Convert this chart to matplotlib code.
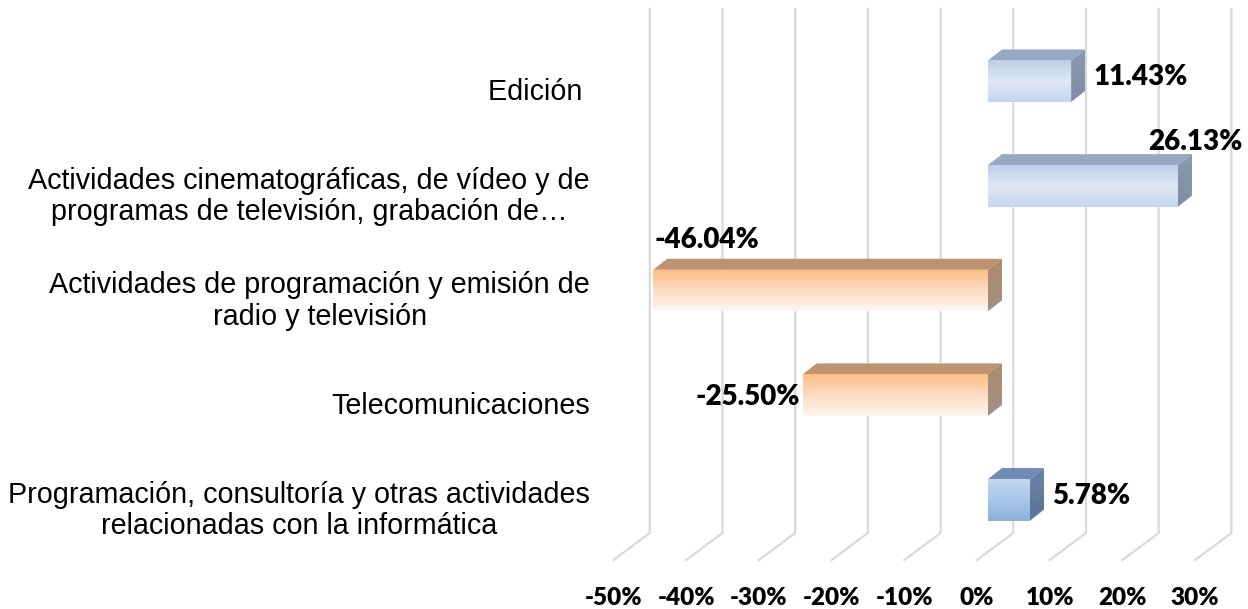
import matplotlib
matplotlib.use('Agg')
import matplotlib.pyplot as plt
from matplotlib.patches import Polygon
from matplotlib.colors import LinearSegmentedColormap
import numpy as np

categorias = [
    'Edición ',
    'Actividades cinematográficas, de vídeo y de\nprogramas de televisión, grabación de…',
    'Actividades de programación y emisión de\nradio y televisión',
    'Telecomunicaciones',
    'Programación, consultoría y otras actividades\nrelacionadas con la informática',
]
valores = [11.43, 26.13, -46.04, -25.50, 5.78]
ticks_x = [-50, -40, -30, -20, -10, 0, 10, 20, 30]
etiquetas_x = [f'{t}%' for t in ticks_x]

# colores de cada barra: frente (degradado), cara superior, lateral (degradado)
azul_claro = (['#bccfe8', '#dfe8f4', '#c3d6ef'], '#97a9c0', ['#8a9ab0', '#7d8da4'])
azul = (['#c4d8f0', '#a9c5e9', '#8cb0de'], '#6f8cb4', ['#6c84a6', '#5a7297'])
naranja = (['#fbbd88', '#fddcc2', '#fff6ef'], '#c0926f', ['#b08a6a', '#a09286'])
estilos = [azul_claro, azul_claro, naranja, naranja, azul]
# posicion de la etiqueta de valor (como la deja Excel)
pos_etiqueta = ['derecha', 'arriba_fin', 'arriba_ini', 'izquierda', 'derecha']

# geometria en pixeles de la figura
PX_X = 7.27        # pixeles por 1 %
X0 = 988           # pixel del 0 % en el frente de las barras
FILA0 = 81.2       # centro de la primera barra
PASO = 104.65      # separacion entre barras
ALTO = 41.5        # alto de la cara frontal
PROF_X, PROF_Y = 14, 11   # profundidad de la barra


def col_px(p):
    return (p - X0) / PX_X


def fila_px(p):
    return (p - FILA0) / PASO


dx = PROF_X / PX_X
dy = PROF_Y / PASO


def cara_degradado(ax, verts, colores, z):
    poly = Polygon(verts, closed=True, facecolor='none', edgecolor='none', zorder=z)
    ax.add_patch(poly)
    xs = [v[0] for v in verts]
    ys = [v[1] for v in verts]
    cmap = LinearSegmentedColormap.from_list('g', colores)
    grad = np.linspace(0, 1, 256).reshape(-1, 1)
    im = ax.imshow(grad, extent=(min(xs), max(xs), max(ys), min(ys)), cmap=cmap,
                   aspect='auto', origin='upper', interpolation='bilinear', zorder=z)
    im.set_clip_path(poly)


fig = plt.figure(figsize=(12.48, 6.09), dpi=100)
ax = fig.add_axes([0, 0, 1, 1])
ax.set_axis_off()

# lineas de division (pared del fondo y suelo)
for t, lab in zip(ticks_x, etiquetas_x):
    xb = t + 25.3 / PX_X
    xf = t - 11 / PX_X
    ax.plot([xb, xb, xf], [fila_px(9), fila_px(533), fila_px(560)],
            color='#d9d9d9', lw=1.6, zorder=1, solid_joinstyle='miter')
    ax.text(xf, fila_px(598), lab, ha='center', va='center', fontsize=17.5,
            fontweight='heavy', family='Lato', color='#000000')

for i, (cat, v, est, pos) in enumerate(zip(categorias, valores, estilos, pos_etiqueta)):
    frente, superior, lateral = est
    top = i - ALTO / 2 / PASO
    bot = i + ALTO / 2 / PASO
    x_ini, x_fin = min(0, v), max(0, v)
    # cara superior
    ax.add_patch(Polygon([(x_ini, top), (x_fin, top), (x_fin + dx, top - dy), (x_ini + dx, top - dy)],
                         closed=True, facecolor=superior, edgecolor='none', zorder=3))
    # lateral
    cara_degradado(ax, [(x_fin, top), (x_fin + dx, top - dy), (x_fin + dx, bot - dy), (x_fin, bot)],
                   lateral, 3)
    # frente
    cara_degradado(ax, [(x_ini, top), (x_fin, top), (x_fin, bot), (x_ini, bot)], frente, 4)

    texto = f'{v:.2f}%'
    kw = dict(fontsize=20, fontweight='heavy', family='Lato', color='#000000', zorder=6)
    if pos == 'derecha':
        ax.text(x_fin + dx + 8 / PX_X, i - 4 / PASO, texto, ha='left', va='center', **kw)
    elif pos == 'arriba_fin':
        ax.text(x_fin + dx + 3 / PX_X, top - dy - 12 / PASO, texto, ha='center', va='center', **kw)
    elif pos == 'arriba_ini':
        ax.text(x_ini + 1 / PX_X, top - dy - 19 / PASO, texto, ha='left', va='center', **kw)
    else:
        ax.text(x_ini - 3 / PX_X, i + 2 / PASO, texto, ha='right', va='center', **kw)

    # etiqueta de categoria
    ax.text(col_px(590), i + 10.5 / PASO, cat, ha='right', va='center', multialignment='center',
            fontsize=20.7, family='Liberation Sans', color='#000000', linespacing=1.16)

ax.set_xlim(col_px(0), col_px(1248))
ax.set_ylim(fila_px(609), fila_px(0))

fig.savefig('out.png', dpi=100)
